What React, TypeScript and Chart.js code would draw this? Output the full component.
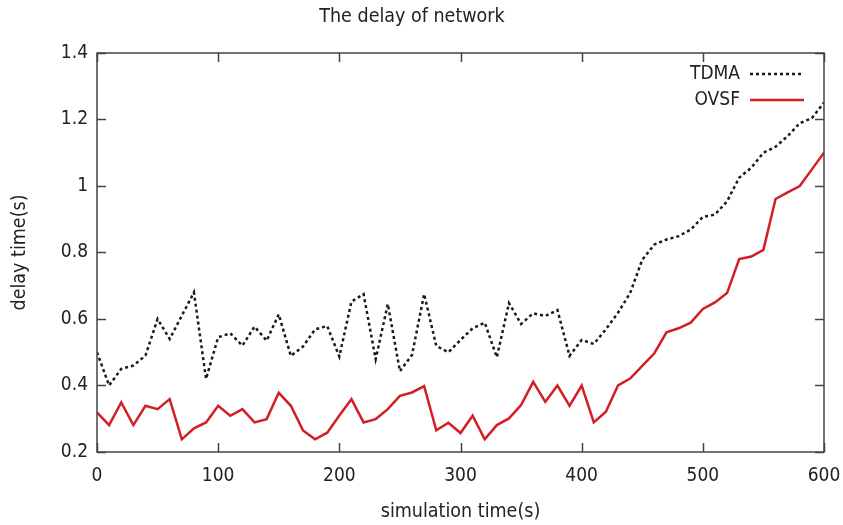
import React, { useEffect, useRef } from "react";
import { Chart, registerables } from "chart.js";

Chart.register(...registerables);

const times = [
  0, 10, 20, 30, 40, 50, 60, 70, 80, 90,
  100, 110, 120, 130, 140, 150, 160, 170, 180, 190,
  200, 210, 220, 230, 240, 250, 260, 270, 280, 290,
  300, 310, 320, 330, 340, 350, 360, 370, 380, 390,
  400, 410, 420, 430, 440, 450, 460, 470, 480, 490,
  500, 510, 520, 530, 540, 550, 560, 570, 580, 590, 600,
];

const tdma = [
  0.5, 0.4, 0.45, 0.46, 0.49, 0.6, 0.54, 0.61, 0.68, 0.42,
  0.545, 0.557, 0.52, 0.577, 0.535, 0.614, 0.489, 0.517, 0.569, 0.579,
  0.487, 0.652, 0.675, 0.479, 0.645, 0.443, 0.492, 0.675, 0.519, 0.5,
  0.537, 0.572, 0.589, 0.485, 0.648, 0.585, 0.617, 0.609, 0.627, 0.489,
  0.537, 0.525, 0.569, 0.619, 0.678, 0.778, 0.824, 0.839, 0.849, 0.869,
  0.907, 0.914, 0.954, 1.025, 1.055, 1.1, 1.118, 1.15, 1.189, 1.204, 1.251,
];

const ovsf = [
  0.319, 0.281, 0.349, 0.281, 0.339, 0.329, 0.359, 0.238, 0.271, 0.289,
  0.339, 0.309, 0.329, 0.289, 0.299, 0.378, 0.339, 0.265, 0.238, 0.258,
  0.31, 0.359, 0.289, 0.299, 0.329, 0.369, 0.379, 0.398, 0.265, 0.288,
  0.257, 0.309, 0.238, 0.281, 0.301, 0.341, 0.411, 0.351, 0.4, 0.339,
  0.4, 0.289, 0.321, 0.4, 0.421, 0.459, 0.497, 0.56, 0.572, 0.589,
  0.63, 0.65, 0.678, 0.78, 0.788, 0.808, 0.961, 0.981, 1.0, 1.05, 1.1,
];

const seriesNames = ["TDMA", "OVSF"];
const chartTitle = "The delay of network";
const xTitle = "simulation time(s)";
const yTitle = "delay time(s)";

const FONT = "'DejaVu Sans Condensed', 'DejaVu Sans', sans-serif";
const TEXT = "#222";

const framePlugin = {
  id: "gnuplotFrame",
  afterDatasetsDraw(chart: any) {
    const { ctx, chartArea } = chart;
    const { left, right, top, bottom } = chartArea;
    const xs = chart.scales.x;
    const ys = chart.scales.y;
    const tl = 9;
    ctx.save();
    ctx.strokeStyle = "#444";
    ctx.lineWidth = 1.5;
    ctx.beginPath();
    xs.ticks.forEach((t: any) => {
      const px = Math.round(xs.getPixelForValue(t.value)) + 0.5;
      ctx.moveTo(px, bottom);
      ctx.lineTo(px, bottom - tl);
      ctx.moveTo(px, top);
      ctx.lineTo(px, top + tl);
    });
    ys.ticks.forEach((t: any) => {
      const py = Math.round(ys.getPixelForValue(t.value)) + 0.5;
      ctx.moveTo(left, py);
      ctx.lineTo(left + tl, py);
      ctx.moveTo(right, py);
      ctx.lineTo(right - tl, py);
    });
    ctx.stroke();
    ctx.strokeRect(left, top, right - left, bottom - top);
    ctx.restore();
  },
  afterDraw(chart: any) {
    const { ctx, chartArea } = chart;
    ctx.save();
    ctx.font = `19px ${FONT}`;
    ctx.fillStyle = TEXT;
    ctx.textAlign = "right";
    ctx.textBaseline = "middle";
    chart.data.datasets.forEach((ds: any, i: number) => {
      const y = chartArea.top + 21 + i * 26;
      const textRight = chartArea.right - 84;
      ctx.fillText(ds.label, textRight, y);
      ctx.beginPath();
      ctx.strokeStyle = ds.borderColor;
      ctx.lineWidth = ds.borderWidth;
      ctx.setLineDash(ds.borderDash || []);
      ctx.moveTo(textRight + 10, y);
      ctx.lineTo(chartArea.right - 20, y);
      ctx.stroke();
    });
    ctx.restore();
  },
};

export default function App() {
  const ref = useRef<HTMLCanvasElement | null>(null);

  useEffect(() => {
    document.body.style.margin = "0";
    const canvas = ref.current;
    if (!canvas) return;
    const chart = new Chart(canvas, {
      type: "line",
      data: {
        datasets: [
          {
            label: seriesNames[0],
            data: times.map((t, i) => ({ x: t, y: tdma[i] })),
            borderColor: "#1a1a1a",
            borderWidth: 2.5,
            borderDash: [3, 3],
            pointRadius: 0,
            tension: 0,
            fill: false,
          },
          {
            label: seriesNames[1],
            data: times.map((t, i) => ({ x: t, y: ovsf[i] })),
            borderColor: "#d21f26",
            borderWidth: 2.5,
            pointRadius: 0,
            tension: 0,
            fill: false,
          },
        ],
      },
      options: {
        animation: false,
        responsive: true,
        maintainAspectRatio: false,
        layout: { padding: { left: 0, right: 19, top: 0, bottom: 0 } },
        plugins: {
          legend: { display: false },
          tooltip: { enabled: false },
          title: {
            display: true,
            text: chartTitle,
            color: TEXT,
            font: { family: FONT, size: 19.5, weight: "normal" },
            padding: { top: 5.3, bottom: 24.3 },
          },
        },
        scales: {
          x: {
            type: "linear",
            min: 0,
            max: 600,
            grid: { display: false, drawTicks: false },
            border: { display: false },
            ticks: {
              stepSize: 100,
              padding: 13,
              color: TEXT,
              font: { family: FONT, size: 19 },
              maxRotation: 0,
            },
            title: {
              display: true,
              text: xTitle,
              color: TEXT,
              font: { family: FONT, size: 19.5 },
              padding: { top: 0, bottom: 1.3 },
            },
            afterFit(scale: any) {
              scale.height = 73;
              scale.paddingLeft = 0;
              scale.paddingRight = 0;
            },
          },
          y: {
            type: "linear",
            min: 0.2,
            max: 1.4,
            grid: { display: false, drawTicks: false },
            border: { display: false },
            ticks: {
              stepSize: 0.2,
              padding: 9,
              color: TEXT,
              font: { family: FONT, size: 19 },
              callback: (v: any) => String(Number(Number(v).toFixed(1))),
            },
            title: {
              display: true,
              text: yTitle,
              color: TEXT,
              font: { family: FONT, size: 19.5 },
              padding: { top: 8.3, bottom: 0 },
            },
            afterFit(scale: any) {
              scale.width = 97;
              scale.paddingTop = 0;
              scale.paddingBottom = 0;
            },
          },
        },
      },
      plugins: [framePlugin],
    });
    return () => chart.destroy();
  }, []);

  return (
    <div style={{ position: "relative", width: "843px", height: "525px", background: "#fff" }}>
      <canvas ref={ref} />
    </div>
  );
}
